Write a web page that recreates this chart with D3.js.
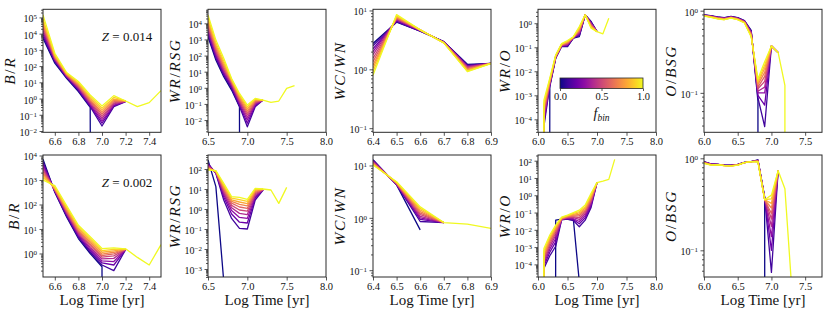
<!DOCTYPE html>
<html>
<head>
<meta charset="utf-8">
<script src="https://cdn.jsdelivr.net/npm/d3@7"></script>
<style>
  body { margin: 0; background: #fff; }
  svg text { font-family: "Liberation Serif", "Times New Roman", serif; fill: #111; }
</style>
</head>
<body>
<svg id="fig" width="830" height="312"></svg>
<script>
// zero counts: drawn clipped to the bottom, like matplotlib does on log axes
const Z = -Infinity;

// binary fraction of each curve
const fBins = [0, 0.1, 0.2, 0.3, 0.4, 0.5, 0.6, 0.7, 0.8, 0.9, 1.0];

// log time grids
const t60 = [6.0, 6.1, 6.2, 6.3, 6.4, 6.5, 6.6, 6.7, 6.8, 6.9, 7.0, 7.1, 7.2, 7.3];
const t64 = [6.4, 6.5, 6.6, 6.7, 6.8, 6.9];
const t65 = [6.5, 6.6, 6.7, 6.8, 6.9, 7.0, 7.1, 7.2, 7.3, 7.4, 7.5, 7.6];

// all ratios as log10, one row per fBin (Z = 0.014)
const brHigh = [
  [3.72, 2.18, 1.25, 0.43, -0.54, Z],
  [3.82, 2.28, 1.31, 0.49, -0.50, -1.69, -0.50, -0.19],
  [3.95, 2.33, 1.34, 0.55, -0.44, -1.52, -0.45, -0.18],
  [4.08, 2.38, 1.37, 0.61, -0.37, -1.37, -0.40, -0.18],
  [4.21, 2.43, 1.40, 0.67, -0.30, -1.23, -0.33, -0.17],
  [4.35, 2.48, 1.43, 0.73, -0.22, -1.10, -0.27, -0.17],
  [4.49, 2.53, 1.46, 0.79, -0.15, -0.97, -0.19, -0.16],
  [4.62, 2.58, 1.49, 0.85, -0.07, -0.85, -0.11, -0.16],
  [4.76, 2.63, 1.52, 0.91, 0.01, -0.73, -0.03, -0.15],
  [4.91, 2.70, 1.56, 0.98, 0.11, -0.60, 0.07, -0.15],
  [5.16, 2.79, 1.60, 1.05, 0.22, -0.46, 0.18, -0.15, -0.50, -0.25, 0.49]
];
const wrRsgHigh = [
  [3.17, 1.72, 0.69, -0.14, -1.18, Z],
  [3.28, 1.83, 0.79, -0.04, -1.15, -2.42, -1.18, -0.76],
  [3.42, 1.95, 0.88, 0.05, -1.05, -2.20, -1.10, -0.76],
  [3.55, 2.07, 0.98, 0.14, -0.96, -2.00, -1.03, -0.76],
  [3.68, 2.19, 1.08, 0.22, -0.87, -1.83, -0.97, -0.76],
  [3.80, 2.30, 1.18, 0.29, -0.78, -1.68, -0.91, -0.76],
  [3.92, 2.42, 1.29, 0.35, -0.70, -1.55, -0.85, -0.76],
  [4.05, 2.54, 1.40, 0.41, -0.61, -1.43, -0.80, -0.76],
  [4.18, 2.66, 1.52, 0.46, -0.52, -1.31, -0.75, -0.76],
  [4.33, 2.80, 1.66, 0.52, -0.44, -1.19, -0.70, -0.76],
  [4.52, 2.96, 1.83, 0.58, -0.35, -1.07, -0.66, -0.76, -0.90, -0.82, -0.04, 0.13]
];
const wcWnHigh = [
  [0.44, 0.80, 0.650, 0.470, 0.085, 0.10],
  [0.40, 0.81, 0.650, 0.470, 0.07, 0.10],
  [0.35, 0.82, 0.655, 0.465, 0.06, 0.10],
  [0.30, 0.84, 0.660, 0.460, 0.05, 0.10],
  [0.25, 0.85, 0.660, 0.460, 0.04, 0.10],
  [0.19, 0.86, 0.665, 0.460, 0.03, 0.10],
  [0.13, 0.87, 0.665, 0.455, 0.01, 0.10],
  [0.07, 0.88, 0.670, 0.455, 0.00, 0.10],
  [0.02, 0.90, 0.670, 0.450, -0.01, 0.10],
  [-0.04, 0.91, 0.670, 0.450, -0.03, 0.10],
  [-0.10, 0.93, 0.670, 0.450, -0.04, 0.10]
];
const wrOHigh = [
  [null, Z, -2.64, -1.46, -0.97, -0.97, -0.62, -0.56, 0.35, 0.07, -0.35],
  [Z, -4.30, -2.60, -1.44, -0.96, -0.95, -0.61, -0.52, 0.35, 0.05, -0.35],
  [Z, -4.15, -2.57, -1.43, -0.95, -0.93, -0.61, -0.48, 0.35, 0.02, -0.35],
  [Z, -4.00, -2.54, -1.42, -0.94, -0.90, -0.60, -0.44, 0.35, 0.00, -0.35],
  [Z, -3.88, -2.50, -1.41, -0.93, -0.87, -0.60, -0.40, 0.35, -0.03, -0.35],
  [Z, -3.76, -2.47, -1.39, -0.92, -0.85, -0.59, -0.36, 0.35, -0.06, -0.35],
  [Z, -3.65, -2.44, -1.38, -0.91, -0.82, -0.59, -0.32, 0.35, -0.08, -0.35],
  [Z, -3.55, -2.41, -1.37, -0.90, -0.80, -0.58, -0.28, 0.35, -0.11, -0.35],
  [Z, -3.45, -2.38, -1.36, -0.88, -0.77, -0.58, -0.24, 0.35, -0.14, -0.35],
  [Z, -3.35, -2.34, -1.34, -0.87, -0.75, -0.57, -0.19, 0.35, -0.17, -0.35],
  [Z, -3.20, -2.29, -1.32, -0.85, -0.72, -0.56, -0.14, 0.35, -0.21, -0.35, -0.44, 0.21]
];
const oBsgHigh = [
  [-0.050, -0.060, -0.075, -0.085, -0.070, -0.085, -0.120, -0.24, -1.10, Z],
  [-0.052, -0.062, -0.077, -0.088, -0.072, -0.088, -0.123, -0.25, -1.06, -1.41, -0.43, -0.51],
  [-0.053, -0.064, -0.080, -0.090, -0.074, -0.090, -0.126, -0.26, -1.03, -1.15, -0.43, -0.51],
  [-0.055, -0.066, -0.082, -0.093, -0.076, -0.093, -0.129, -0.26, -1.00, -1.00, -0.43, -0.51],
  [-0.056, -0.068, -0.085, -0.095, -0.078, -0.095, -0.132, -0.27, -0.98, -0.93, -0.43, -0.51],
  [-0.058, -0.070, -0.087, -0.098, -0.080, -0.098, -0.135, -0.28, -0.95, -0.86, -0.43, -0.51],
  [-0.059, -0.072, -0.090, -0.100, -0.082, -0.100, -0.138, -0.29, -0.93, -0.80, -0.43, -0.51],
  [-0.061, -0.074, -0.092, -0.103, -0.084, -0.103, -0.141, -0.30, -0.90, -0.75, -0.43, -0.51],
  [-0.062, -0.076, -0.095, -0.105, -0.086, -0.105, -0.144, -0.30, -0.88, -0.70, -0.43, -0.51],
  [-0.064, -0.078, -0.097, -0.108, -0.088, -0.108, -0.147, -0.31, -0.86, -0.66, -0.43, -0.51],
  [-0.065, -0.080, -0.100, -0.110, -0.090, -0.110, -0.150, -0.32, -0.83, -0.62, -0.43, -0.51, -0.91, Z]
];

// Z = 0.002
const brLow = [
  [3.85, 2.50, 1.49, 0.61, 0.00, -0.54, Z],
  [3.75, 2.52, 1.53, 0.66, 0.06, -0.47, -0.70, 0.16],
  [3.66, 2.54, 1.57, 0.71, 0.12, -0.38, -0.47, 0.16],
  [3.57, 2.56, 1.61, 0.76, 0.19, -0.30, -0.33, 0.16],
  [3.49, 2.58, 1.65, 0.81, 0.25, -0.22, -0.20, 0.16],
  [3.41, 2.60, 1.69, 0.86, 0.32, -0.15, -0.10, 0.17],
  [3.33, 2.62, 1.74, 0.91, 0.38, -0.09, -0.02, 0.17],
  [3.26, 2.64, 1.78, 0.96, 0.45, -0.03, 0.05, 0.17],
  [3.19, 2.66, 1.83, 1.02, 0.52, 0.05, 0.11, 0.18],
  [3.10, 2.70, 1.89, 1.08, 0.60, 0.12, 0.17, 0.18],
  [3.00, 2.77, 1.96, 1.15, 0.68, 0.20, 0.23, 0.19, -0.16, -0.47, 0.36]
];
const wrRsgLow = [
  [2.45, 1.12, -3.60, Z],
  [2.28, 1.78, 0.45, -0.47, -0.97, -1.00, 0.45, 0.95],
  [2.24, 1.80, 0.60, -0.25, -0.66, -0.70, 0.55, 0.96],
  [2.20, 1.82, 0.72, -0.08, -0.42, -0.47, 0.63, 0.96],
  [2.16, 1.83, 0.82, 0.06, -0.22, -0.28, 0.70, 0.97],
  [2.12, 1.85, 0.91, 0.18, -0.05, -0.11, 0.77, 0.97],
  [2.09, 1.86, 0.99, 0.29, 0.10, 0.03, 0.83, 0.98],
  [2.06, 1.87, 1.06, 0.38, 0.23, 0.16, 0.88, 0.98],
  [2.03, 1.89, 1.13, 0.46, 0.35, 0.27, 0.93, 0.99],
  [2.00, 1.90, 1.20, 0.54, 0.47, 0.38, 0.98, 0.99],
  [1.95, 1.92, 1.28, 0.62, 0.58, 0.48, 1.03, 1.00, 0.95, 0.28, 1.08]
];
const wcWnLow = [
  [1.11, 0.63, -0.23],
  [1.10, 0.63, -0.07, -0.09],
  [1.09, 0.64, -0.03, -0.09],
  [1.08, 0.64, 0.00, -0.09],
  [1.07, 0.65, 0.03, -0.09],
  [1.06, 0.65, 0.06, -0.09],
  [1.05, 0.66, 0.09, -0.09],
  [1.04, 0.67, 0.12, -0.09],
  [1.03, 0.67, 0.15, -0.09],
  [1.02, 0.68, 0.18, -0.09],
  [1.01, 0.69, 0.21, -0.09, -0.12, -0.20]
];
const wrOLow = [
  [null, null, Z, -1.44, -1.38, -1.40, -1.42, -5.00, Z],
  [Z, -4.24, -3.50, -2.95, -1.42, -1.38, -1.47, -1.82, -1.44, -0.70, 0.73],
  [Z, -4.10, -3.30, -2.70, -1.41, -1.35, -1.41, -1.65, -1.30, -0.60, 0.73],
  [Z, -3.97, -3.12, -2.50, -1.40, -1.33, -1.36, -1.52, -1.18, -0.50, 0.73],
  [Z, -3.85, -2.96, -2.32, -1.39, -1.30, -1.30, -1.40, -1.07, -0.40, 0.73],
  [Z, -3.73, -2.82, -2.18, -1.38, -1.28, -1.25, -1.29, -0.98, -0.32, 0.73],
  [Z, -3.60, -2.70, -2.06, -1.36, -1.25, -1.20, -1.19, -0.90, -0.24, 0.73],
  [Z, -3.48, -2.60, -1.96, -1.34, -1.23, -1.15, -1.10, -0.82, -0.16, 0.73],
  [Z, -3.36, -2.50, -1.87, -1.32, -1.20, -1.10, -1.02, -0.74, -0.08, 0.73],
  [Z, -3.22, -2.40, -1.80, -1.29, -1.18, -1.05, -0.94, -0.66, 0.02, 0.73],
  [Z, -3.08, -2.30, -1.73, -1.26, -1.15, -1.01, -0.86, -0.57, 0.11, 0.73, 0.82, 0.92, 2.08]
];
const oBsgLow = [
  [-0.036, -0.060, -0.065, -0.072, -0.075, -0.065, -0.045, -0.035, -0.018, -0.42, Z],
  [-0.038, -0.061, -0.066, -0.073, -0.076, -0.066, -0.045, -0.035, -0.020, -0.43, -1.24, -0.135],
  [-0.040, -0.062, -0.066, -0.074, -0.077, -0.067, -0.045, -0.035, -0.022, -0.43, -1.00, -0.135],
  [-0.042, -0.063, -0.067, -0.075, -0.078, -0.068, -0.046, -0.035, -0.024, -0.44, -0.85, -0.135],
  [-0.044, -0.065, -0.067, -0.076, -0.079, -0.069, -0.046, -0.035, -0.026, -0.44, -0.74, -0.135],
  [-0.045, -0.066, -0.068, -0.076, -0.080, -0.070, -0.046, -0.036, -0.028, -0.44, -0.66, -0.135],
  [-0.047, -0.067, -0.068, -0.077, -0.081, -0.071, -0.046, -0.036, -0.030, -0.45, -0.60, -0.135],
  [-0.049, -0.069, -0.069, -0.078, -0.082, -0.072, -0.047, -0.036, -0.032, -0.45, -0.54, -0.135],
  [-0.051, -0.070, -0.069, -0.079, -0.082, -0.073, -0.047, -0.036, -0.034, -0.45, -0.49, -0.135],
  [-0.053, -0.071, -0.070, -0.080, -0.083, -0.074, -0.047, -0.036, -0.037, -0.45, -0.44, -0.135],
  [-0.055, -0.073, -0.070, -0.080, -0.084, -0.075, -0.047, -0.036, -0.040, -0.45, -0.40, -0.135, -0.33, -1.40]
];

// tick labels
const xTicksA = [6.6, 6.8, 7.0, 7.2, 7.4];
const xTicksB = [6.5, 7.0, 7.5, 8.0];
const xTicksC = [6.4, 6.5, 6.6, 6.7, 6.8, 6.9];
const xTicksD = [6.0, 6.5, 7.0, 7.5, 8.0];
const xTicksE = [6.0, 6.5, 7.0, 7.5];
const cbarTicks = [0, 0.5, 1.0];

// layout
const colLeft = [43, 208, 373, 538, 704];
const rowTop = [9.3, 155];
const rowHeight = [123, 122];
const panelWidth = 118;

const panels = [
  { row: 0, col: 0, t: t65, rows: brHigh, xDom: [6.5, 7.5], yDom: [-2.08, 5.5], xTicks: xTicksA, label: ['B', 'R'], note: '0.014' },
  { row: 0, col: 1, t: t65, rows: wrRsgHigh, xDom: [6.5, 8.0], yDom: [-2.76, 4.87], xTicks: xTicksB, label: ['WR', 'RSG'] },
  { row: 0, col: 2, t: t64, rows: wcWnHigh, xDom: [6.4, 6.9], yDom: [-1.07, 1.02], xTicks: xTicksC, label: ['WC', 'WN'] },
  { row: 0, col: 3, t: t60, rows: wrOHigh, xDom: [6.0, 8.0], yDom: [-4.54, 0.58], xTicks: xTicksD, label: ['WR', 'O'], cbar: true },
  { row: 0, col: 4, t: t60, rows: oBsgHigh, xDom: [6.0, 7.75], yDom: [-1.48, 0.017], xTicks: xTicksE, label: ['O', 'BSG'] },
  { row: 1, col: 0, t: t65, rows: brLow, xDom: [6.5, 7.5], yDom: [-0.96, 4.02], xTicks: xTicksA, label: ['B', 'R'], note: '0.002' },
  { row: 1, col: 1, t: t65, rows: wrRsgLow, xDom: [6.5, 8.0], yDom: [-3.4, 2.7], xTicks: xTicksB, label: ['WR', 'RSG'] },
  { row: 1, col: 2, t: t64, rows: wcWnLow, xDom: [6.4, 6.9], yDom: [-1.13, 1.2], xTicks: xTicksC, label: ['WC', 'WN'] },
  { row: 1, col: 3, t: t60, rows: wrOLow, xDom: [6.0, 8.0], yDom: [-4.73, 2.33], xTicks: xTicksD, label: ['WR', 'O'] },
  { row: 1, col: 4, t: t60, rows: oBsgLow, xDom: [6.0, 7.75], yDom: [-1.29, 0.036], xTicks: xTicksE, label: ['O', 'BSG'] }
];

const ink = '#2a2a2a';
const svg = d3.select('#fig');
const defs = svg.append('defs');

const supMinus = (k) => (k < 0 ? '\u2212' + (-k) : String(k));

panels.forEach((p, i) => {
  const left = colLeft[p.col];
  const top = rowTop[p.row];
  const h = rowHeight[p.row];

  const x = d3.scaleLinear().domain(p.xDom).range([0, panelWidth]);
  const y = d3.scaleLog().domain([10 ** p.yDom[0], 10 ** p.yDom[1]]).range([h, 0]);

  const g = svg.append('g').attr('transform', `translate(${left},${top})`);

  defs.append('clipPath').attr('id', `clip${i}`)
    .append('rect').attr('width', panelWidth).attr('height', h);

  // curves, low fBin first so yellow ends on top
  const line = d3.line()
    .defined((d) => d.v != null)
    .x((d) => x(d.t))
    .y((d) => y(d.v === Z ? 1e-300 : 10 ** d.v));

  const lines = g.append('g').attr('clip-path', `url(#clip${i})`);
  p.rows.forEach((r, k) => {
    const pts = r.map((v, j) => ({ t: p.t[j], v }));
    lines.append('path')
      .datum(pts)
      .attr('fill', 'none')
      .attr('stroke', d3.interpolatePlasma(fBins[k]))
      .attr('stroke-width', 1.3)
      .attr('stroke-linejoin', 'round')
      .attr('d', line);
  });

  // log axis: decade majors, 2..9 minors
  const majors = d3.range(Math.ceil(p.yDom[0]), Math.floor(p.yDom[1]) + 1);
  const minors = [];
  for (let k = Math.floor(p.yDom[0]); k <= Math.ceil(p.yDom[1]); k += 1) {
    for (let m = 2; m <= 9; m += 1) {
      const v = m * 10 ** k;
      if (Math.log10(v) >= p.yDom[0] && Math.log10(v) <= p.yDom[1]) minors.push(v);
    }
  }

  const yMinor = g.append('g')
    .call(d3.axisLeft(y).tickValues(minors).tickSize(2).tickFormat(''));
  const yMajor = g.append('g')
    .call(d3.axisLeft(y).tickValues(majors.map((k) => 10 ** k)).tickSize(3.5).tickPadding(2.5).tickFormat(''));

  yMajor.selectAll('.tick text').each(function (d) {
    const k = Math.round(Math.log10(d));
    const txt = d3.select(this).attr('font-size', 10).attr('dy', '0.45em');
    txt.append('tspan').text('10');
    txt.append('tspan').attr('dy', '-0.45em').attr('font-size', 7).text(supMinus(k));
  });

  const xAx = g.append('g')
    .attr('transform', `translate(0,${h})`)
    .call(d3.axisBottom(x).tickValues(p.xTicks).tickSize(3.5).tickPadding(2).tickFormat(d3.format('.1f')));
  xAx.selectAll('.tick text').attr('font-size', 10.5);

  [yMinor, yMajor, xAx].forEach((a) => {
    a.select('.domain').remove();
    a.selectAll('.tick line').attr('stroke', ink).attr('stroke-width', 0.8);
  });

  // frame
  g.append('rect')
    .attr('width', panelWidth).attr('height', h)
    .attr('fill', 'none').attr('stroke', ink).attr('stroke-width', 1);

  // y label placed left of the tick labels (italic letters, upright slash)
  const bb = yMajor.node().getBBox();
  const yl = g.append('text')
    .attr('transform', `translate(${bb.x - 5},${h / 2}) rotate(-90)`)
    .attr('text-anchor', 'middle')
    .attr('font-size', 15.5)
    .attr('letter-spacing', 1.6);
  yl.append('tspan').attr('font-style', 'italic').text(p.label[0]);
  yl.append('tspan').text('/');
  yl.append('tspan').attr('font-style', 'italic').text(p.label[1]);

  if (p.row === 1) {
    g.append('text')
      .attr('x', panelWidth / 2).attr('y', 149.5)
      .attr('text-anchor', 'middle')
      .attr('font-size', 15)
      .text('Log Time [yr]');
  }

  if (p.note) {
    const n = g.append('text')
      .attr('x', 84).attr('y', 32)
      .attr('text-anchor', 'middle')
      .attr('font-size', 13);
    n.append('tspan').attr('font-style', 'italic').text('Z');
    n.append('tspan').text(' = ' + p.note);
  }

  if (p.cbar) {
    const grad = defs.append('linearGradient').attr('id', 'plasma');
    fBins.forEach((f) => {
      grad.append('stop').attr('offset', f).attr('stop-color', d3.interpolatePlasma(f));
    });
    const cx = d3.scaleLinear().domain([0, 1]).range([22, 105]);
    const cb = g.append('g').attr('transform', 'translate(0,68.7)');
    cb.append('rect')
      .attr('x', cx(0)).attr('width', cx(1) - cx(0)).attr('height', 10.5)
      .attr('fill', 'url(#plasma)')
      .attr('stroke', ink).attr('stroke-width', 0.8);
    const ca = cb.append('g').attr('transform', 'translate(0,10.5)')
      .call(d3.axisBottom(cx).tickValues(cbarTicks).tickSize(2.5).tickPadding(2).tickFormat(d3.format('.1f')));
    ca.select('.domain').remove();
    ca.selectAll('.tick line').attr('stroke', ink).attr('stroke-width', 0.8);
    ca.selectAll('.tick text').attr('font-size', 10.5);
    const fl = cb.append('text')
      .attr('x', (cx(0) + cx(1)) / 2).attr('y', 40)
      .attr('text-anchor', 'middle')
      .attr('font-size', 14)
      .attr('font-style', 'italic');
    fl.append('tspan').text('f');
    fl.append('tspan').attr('font-size', 9.5).attr('dy', 3).text('bin');
  }
});
</script>
</body>
</html>
